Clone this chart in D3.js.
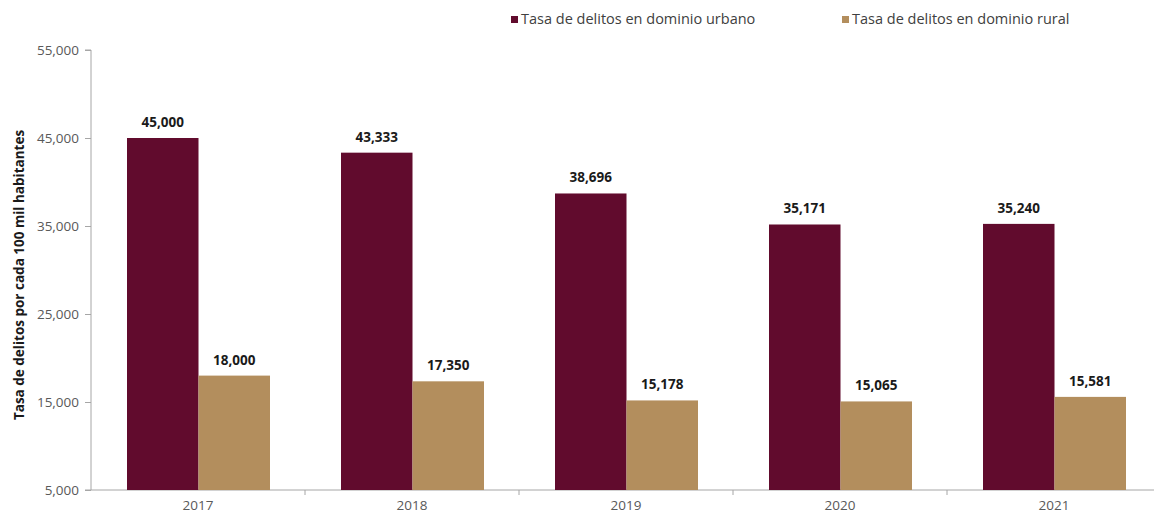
<!DOCTYPE html>
<html><head><meta charset="utf-8">
<script src="https://cdn.jsdelivr.net/npm/d3@7"></script>
<style>body{margin:0;background:#fff;}svg{display:block;font-family:"Open Sans",sans-serif;}</style>
</head><body>
<svg id="c" width="1154" height="514"></svg>
<script>
const years = ["2017","2018","2019","2020","2021"];
const seriesNames = ["Tasa de delitos en dominio urbano","Tasa de delitos en dominio rural"];
const urbano = [45000,43333,38696,35171,35240];
const rural = [18000,17350,15178,15065,15581];
const yTicks = [5000,15000,25000,35000,45000,55000];
const colors = ["#610B2D","#B38E5D"];
const yTitle = "Tasa de delitos por cada 100 mil habitantes";

const svg = d3.select("#c");
const y = d3.scaleLinear().domain([5000,55000]).range([490,50]);
const x0 = d3.scaleBand().domain(years).range([91,1161]).padding(0);
const x1 = d3.scaleBand().domain([0,1]).range([36,179]).padding(0);
const data = years.map((yr,i)=>({yr, vals:[urbano[i], rural[i]]}));

// y axis
const yAxis = svg.append("g").attr("transform","translate(91,0)")
  .call(d3.axisLeft(y).tickValues(yTicks).tickFormat(d3.format(",")).tickSize(6).tickPadding(6));
yAxis.select(".domain").attr("stroke","#a6a6a6").attr("d","M-6,50H0V490H-6");
yAxis.selectAll(".tick line").attr("stroke","#a6a6a6");
yAxis.selectAll("text").attr("fill","#595959").style("font-size","13.5px").style("font-family","'Open Sans',sans-serif");

// x axis
const xg = svg.append("g").attr("transform","translate(0,490)");
xg.append("line").attr("x1",91).attr("x2",1154).attr("y1",0).attr("y2",0).attr("stroke","#a6a6a6");
xg.selectAll("line.tk").data(years.slice(1)).join("line").attr("class","tk")
  .attr("x1",d=>x0(d)).attr("x2",d=>x0(d)).attr("y1",0).attr("y2",5).attr("stroke","#a6a6a6");
xg.selectAll("text").data(years).join("text")
  .attr("x",d=>x0(d)+x0.bandwidth()/2).attr("y",20).attr("text-anchor","middle")
  .attr("fill","#595959").style("font-size","13.5px").text(d=>d);

// bars
const groups = svg.append("g").selectAll("g").data(data).join("g")
  .attr("transform",d=>`translate(${x0(d.yr)},0)`);
groups.selectAll("rect").data(d=>d.vals.map((v,k)=>({v,k}))).join("rect")
  .attr("x",d=>x1(d.k)).attr("width",x1.bandwidth())
  .attr("y",d=>y(d.v)).attr("height",d=>490-y(d.v)).attr("fill",d=>colors[d.k]);
groups.selectAll("text").data(d=>d.vals.map((v,k)=>({v,k}))).join("text")
  .attr("x",d=>x1(d.k)+x1.bandwidth()/2).attr("y",d=>y(d.v)-11)
  .attr("text-anchor","middle").attr("fill","#1a1a1a").style("font-size","13.5px").style("font-weight","bold")
  .text(d=>d3.format(",")(d.v));

// y title
svg.append("text").attr("transform","translate(24,275) rotate(-90)").attr("text-anchor","middle")
  .style("font-size","13.5px").style("font-weight","bold").attr("fill","#1a1a1a").text(yTitle);

// legend
const legX = [511,842];
const leg = svg.append("g").selectAll("g").data(seriesNames).join("g")
  .attr("transform",(d,i)=>`translate(${legX[i]},0)`);
leg.append("rect").attr("x",0).attr("y",16).attr("width",7).attr("height",7).attr("fill",(d,i)=>colors[i]);
leg.append("text").attr("x",10).attr("y",24).style("font-size","14.5px").attr("fill","#404040").text(d=>d);
</script>
</body></html>
